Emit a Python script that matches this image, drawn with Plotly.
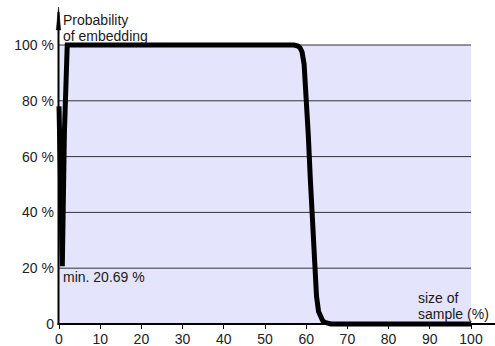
import plotly.graph_objects as go

# ---- data ----
sample_size = [0, 0.3, 0.8, 1.3, 1.7, 2.0, 57.0, 57.5, 58.0, 58.5, 59.0, 59.5, 60.0,
               60.5, 61.0, 61.5, 62.0, 62.5, 63.0, 63.5, 64.0, 64.5, 65.0, 66.0, 100]
probability = [78, 60, 20.69, 68, 87, 100, 100, 99.9, 99.6, 99, 97.5, 93, 82,
               68, 52, 36, 21, 10, 4.5, 2.2, 1.2, 0.6, 0.3, 0, 0]
x_ticks = [0, 10, 20, 30, 40, 50, 60, 70, 80, 90, 100]
y_ticks = [0, 20, 40, 60, 80, 100]
y_ticktext = ["0", "20 %", "40 %", "60 %", "80 %", "100 %"]
grid_levels = [20, 40, 60, 80, 100]
min_label = "min. 20.69 %"
y_title = ["Probability", "of embedding"]
x_title = ["size of", "sample (%)"]

FONT = "Liberation Sans, Arial, sans-serif"
W, H = 495, 346
L, R, T, B = 51, 16, 39, 17
PW, PH = W - L - R, H - T - B


def px(xp):
    return (xp - L) / PW


def py(yp):
    return (H - B - yp) / PH


fig = go.Figure()
fig.add_trace(go.Scatter(x=sample_size, y=probability, mode="lines",
                         line=dict(color="black", width=5), hoverinfo="skip",
                         showlegend=False))

shapes = [dict(type="rect", xref="x", yref="y", x0=0, x1=100, y0=0, y1=100,
               fillcolor="#e4e4fc", line=dict(width=0), layer="below")]
for g in grid_levels:
    shapes.append(dict(type="line", xref="x", yref="y", x0=0, x1=100, y0=g, y1=g,
                       line=dict(color="#333333", width=1), layer="below"))
# axis lines
shapes.append(dict(type="line", xref="paper", yref="paper", x0=px(58.5), x1=px(58.5),
                   y0=py(325), y1=py(12), line=dict(color="black", width=2)))
shapes.append(dict(type="path", xref="paper", yref="paper",
                   path=f"M {px(56.3)},{py(30)} L {px(60.7)},{py(30)} L {px(58.5)},{py(7)} Z",
                   fillcolor="black", line=dict(color="black", width=0.5)))
shapes.append(dict(type="line", xref="paper", yref="paper", x0=px(57.5), x1=px(495),
                   y0=py(324), y1=py(324), line=dict(color="black", width=2)))

tfont = dict(family=FONT, size=14, color="#1a1a1a")
annotations = [
    dict(text=y_title[0], xref="paper", yref="paper", x=px(61), y=py(20),
         xanchor="left", yanchor="middle", showarrow=False, font=tfont),
    dict(text=y_title[1], xref="paper", yref="paper", x=px(61), y=py(36),
         xanchor="left", yanchor="middle", showarrow=False, font=tfont),
    dict(text=x_title[0], xref="paper", yref="paper", x=px(416), y=py(297.5),
         xanchor="left", yanchor="middle", showarrow=False, font=tfont),
    dict(text=x_title[1], xref="paper", yref="paper", x=px(416), y=py(313.5),
         xanchor="left", yanchor="middle", showarrow=False, font=tfont),
    dict(text=min_label, xref="paper", yref="paper", x=px(61), y=py(277),
         xanchor="left", yanchor="middle", showarrow=False, font=tfont),
]

fig.update_layout(
    width=W, height=H, margin=dict(l=L, r=R, t=T, b=B, pad=0),
    paper_bgcolor="white", plot_bgcolor="white",
    shapes=shapes, annotations=annotations,
    xaxis=dict(range=[-8 / 4.12, 100 + 8 / 4.12], tickvals=x_ticks, showgrid=False,
               zeroline=False, showline=False, ticks="inside", ticklen=5,
               tickcolor="black", tickwidth=1, automargin=False,
               tickfont=dict(family=FONT, size=14, color="#222")),
    yaxis=dict(range=[-5 / 2.79, 100 + 6 / 2.79], tickvals=y_ticks, ticktext=y_ticktext,
               showgrid=False, zeroline=False, showline=False, ticks="",
               automargin=False, ticklabelstandoff=-4,
               tickfont=dict(family=FONT, size=14, color="#222")),
)

fig.write_html(
    "out.html",
    config={"responsive": False, "displayModeBar": False},
    post_script="document.body.style.margin='0';document.body.style.overflow='hidden';",
)
